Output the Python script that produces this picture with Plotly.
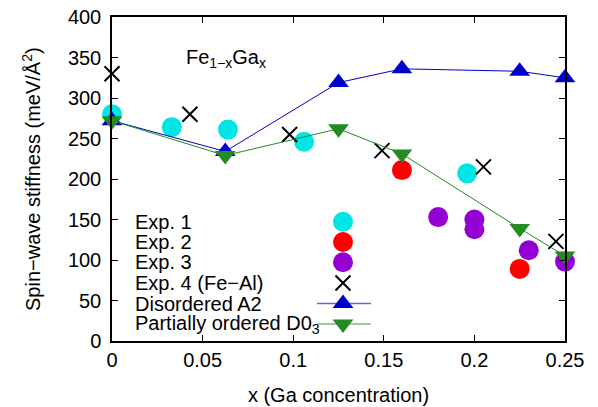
import plotly.graph_objects as go

# ---------------- data ----------------
exp1_x = [0.0, 0.033, 0.064, 0.106, 0.196]
exp1_y = [280, 264, 261, 246, 207]

exp2_x = [0.160, 0.225]
exp2_y = [211, 89]

exp3_x = [0.180, 0.200, 0.200, 0.230, 0.250]
exp3_y = [153, 150, 138, 112, 98]

exp4_x = [0.0, 0.043, 0.098, 0.149, 0.205, 0.245]
exp4_y = [330, 280, 255, 235, 215, 123]

a2_x = [0.0, 0.0625, 0.125, 0.16, 0.225, 0.25]
a2_y = [272, 234, 319, 336, 333, 325]

d03_x = [0.0, 0.0625, 0.125, 0.16, 0.225, 0.25]
d03_y = [272, 229, 262, 231, 139, 105]

legend_labels = ["Exp. 1", "Exp. 2", "Exp. 3", "Exp. 4 (Fe\u2212Al)",
                 "Disordered A2", "Partially ordered D0<sub>3</sub>"]

x_ticks = [0, 0.05, 0.1, 0.15, 0.2, 0.25]
x_ticklabels = ["0", "0.05", "0.1", "0.15", "0.2", "0.25"]
y_ticks = [0, 50, 100, 150, 200, 250, 300, 350, 400]

x_title = "x (Ga concentration)"
y_title = "Spin\u2212wave stiffness (meV/\u00c5<sup>2</sup>)"

# ---------------- style ----------------
C_CYAN = "#00E5E5"
C_RED = "#FF0000"
C_PURPLE = "#9400D3"
C_BLACK = "#000000"
C_BLUE = "#0000CC"
C_GREEN = "#228B22"
FONT = "Liberation Sans, Arial, Helvetica, sans-serif"
FS = 20

W, H = 598, 407
ML, MR, MT, MB = 112, 33, 17, 66
PW, PH = W - ML - MR, H - MT - MB


def px2paper_x(px):
    return (px - ML) / PW


def px2paper_y(py):
    return (H - MB - py) / PH


fig = go.Figure()

styles = [
    dict(x=exp1_x, y=exp1_y, mode="markers",
         marker=dict(symbol="circle", size=20, color=C_CYAN)),
    dict(x=exp2_x, y=exp2_y, mode="markers",
         marker=dict(symbol="circle", size=20, color=C_RED)),
    dict(x=exp3_x, y=exp3_y, mode="markers",
         marker=dict(symbol="circle", size=20, color=C_PURPLE)),
    dict(x=exp4_x, y=exp4_y, mode="markers",
         marker=dict(symbol="x-thin", size=15, color=C_BLACK,
                     line=dict(width=2, color=C_BLACK))),
    dict(x=a2_x, y=a2_y, mode="lines+markers",
         line=dict(color=C_BLUE, width=1),
         marker=dict(symbol="triangle-up", size=18, color=C_BLUE)),
    dict(x=d03_x, y=d03_y, mode="lines+markers",
         line=dict(color=C_GREEN, width=1),
         marker=dict(symbol="triangle-down", size=18, color=C_GREEN)),
]
for s in styles:
    fig.add_trace(go.Scatter(showlegend=False, cliponaxis=False, hoverinfo="skip", **s))

# ---------------- custom gnuplot-like key (pixel-based overlay axes) ----------------
key_rows = [221.7, 242.0, 262.3, 283.0, 303.5, 324.0]
key_text_x = 133
key_sym_x = 343
key_line_x = [317, 371]

for i, st in enumerate(styles):
    yk = key_rows[i]
    m = st["marker"]
    if st["mode"].startswith("lines"):
        fig.add_trace(go.Scatter(x=key_line_x, y=[yk, yk], mode="lines",
                                 line=dict(color=st["line"]["color"], width=1.5),
                                 opacity=0.6, xaxis="x2", yaxis="y2",
                                 showlegend=False, hoverinfo="skip", cliponaxis=False))
    fig.add_trace(go.Scatter(x=[key_sym_x], y=[yk], mode="markers", marker=m,
                             xaxis="x2", yaxis="y2", showlegend=False,
                             hoverinfo="skip", cliponaxis=False))
    fig.add_annotation(x=key_text_x, y=yk, xref="x2", yref="y2", text=legend_labels[i],
                       showarrow=False, xanchor="left", yanchor="middle",
                       font=dict(family=FONT, size=FS, color="black"))

fig.add_annotation(x=184, y=58, xref="x2", yref="y2",
                   text="Fe<sub>1\u2212x</sub>Ga<sub>x</sub>", showarrow=False,
                   xanchor="left", yanchor="middle",
                   font=dict(family=FONT, size=FS, color="black"))

# y-axis title as rotated annotation (gnuplot-like position)
fig.add_annotation(x=px2paper_x(31), y=px2paper_y(179), xref="paper", yref="paper",
                   text=y_title, textangle=-90,
                   showarrow=False, xanchor="center", yanchor="middle",
                   font=dict(family=FONT, size=FS, color="black"))

axis_common = dict(showgrid=False, zeroline=False, showline=True, linecolor="black",
                   linewidth=1.5, mirror="allticks", ticks="inside", ticklen=6,
                   tickcolor="black", tickwidth=1, automargin=False,
                   tickfont=dict(family=FONT, size=FS, color="black"))

fig.update_layout(
    width=W, height=H,
    margin=dict(l=ML, r=MR, t=MT, b=MB),
    plot_bgcolor="white", paper_bgcolor="white",
    xaxis=dict(range=[0, 0.25], tickvals=x_ticks, ticktext=x_ticklabels,
               title=dict(text=x_title, standoff=18,
                          font=dict(family=FONT, size=FS, color="black")),
               **axis_common),
    yaxis=dict(range=[0, 400], tickvals=y_ticks, ticklabelstandoff=5,
               **axis_common),
    xaxis2=dict(range=[ML, W - MR], overlaying="x", visible=False, fixedrange=True),
    yaxis2=dict(range=[H - MB, MT], overlaying="y", visible=False, fixedrange=True),
    showlegend=False,
)

fig.write_html("out.html", config={"displayModeBar": False},
               post_script="document.body.style.margin='0';document.body.style.overflow='hidden';")
